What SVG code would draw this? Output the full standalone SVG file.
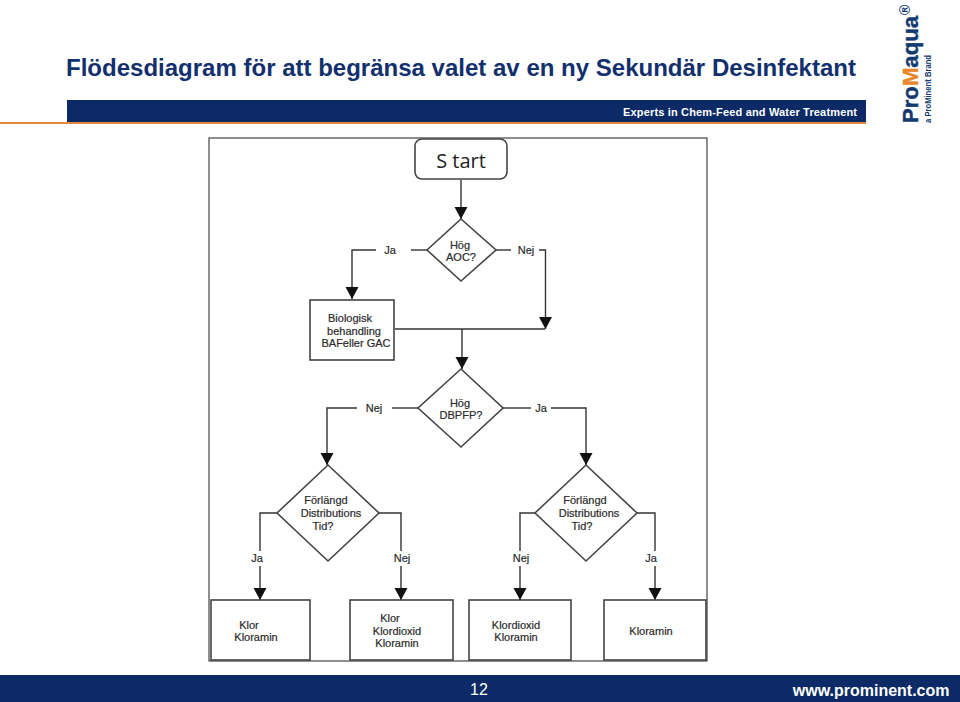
<svg xmlns="http://www.w3.org/2000/svg" width="960" height="702" viewBox="0 0 960 702">
<defs>
<marker id="ah" markerUnits="userSpaceOnUse" markerWidth="14" markerHeight="14" refX="12" refY="6.500" orient="auto"><path d="M0 0L12 6.500L0 13Z" fill="#111"/></marker>
</defs>
<style>
text{font-family:"Liberation Sans",Arial,sans-serif}
.s{fill:#fff;stroke:#444;stroke-width:1.6}
.c{fill:none;stroke:#333;stroke-width:1.4}
.a{marker-end:url(#ah)}
.t{font-size:11px;fill:#2a2a2a;text-anchor:middle;stroke:#2a2a2a;stroke-width:.2}
.l{font-size:11px;fill:#2a2a2a;text-anchor:middle;stroke:#2a2a2a;stroke-width:.2}
</style>
<rect width="960" height="702" fill="#fff"/>
<g id="header">
<text x="66" y="76" font-size="24.500" font-weight="700" fill="#12306e" textLength="790" lengthAdjust="spacingAndGlyphs">Flödesdiagram för att begränsa valet av en ny Sekundär Desinfektant</text>
<rect x="67" y="100" width="799" height="22" fill="#0b2a66"/>
<rect x="0" y="122" width="866" height="2" fill="#e58a3c"/>
<text x="857" y="116" font-size="11" font-weight="700" fill="#fff" text-anchor="end" textLength="234" lengthAdjust="spacing">Experts in Chem-Feed and Water Treatment</text>
</g>
<g id="logo">
<text transform="translate(917.500 123) rotate(-90)" font-size="22" font-weight="700" textLength="107" lengthAdjust="spacingAndGlyphs" fill="#123a70" stroke="#123a70" stroke-width=".4">Pro<tspan fill="#e8872a" stroke="#e8872a">M</tspan>aqua</text>
<text transform="translate(931 123) rotate(-90)" font-size="9" font-weight="700" fill="#123a70" textLength="68" lengthAdjust="spacingAndGlyphs">a ProMinent Brand</text>
<text transform="translate(910 15) rotate(-90)" font-size="14" font-weight="700" fill="#123a70">®</text>
</g>
<rect id="frame" x="209" y="138" width="498" height="523" fill="none" stroke="#444" stroke-width="1.2"/>
<g id="connectors">
<path class="c a" d="M461 180V219"/>
<path class="c" d="M427 250H411"/>
<path class="c a" d="M376 250H352V299"/>
<path class="c" d="M496 250H511"/>
<path class="c a" d="M539 250H545.500V329"/>
<path class="c" d="M395 329H545"/>
<path class="c a" d="M462 329V369"/>
<path class="c" d="M418 408H392"/>
<path class="c a" d="M357 408H327V465"/>
<path class="c" d="M503 408H531"/>
<path class="c a" d="M551 408H586V465"/>
<path class="c" d="M277 513H260V551"/>
<path class="c a" d="M260 566V600"/>
<path class="c" d="M379 513H401V551"/>
<path class="c a" d="M401 566V600"/>
<path class="c" d="M535 513H520V551"/>
<path class="c a" d="M520 566V600"/>
<path class="c" d="M637 513H655V551"/>
<path class="c a" d="M655 566V600"/>
<text class="l" x="390" y="254">Ja</text>
<text class="l" x="526" y="254">Nej</text>
<text class="l" x="374" y="412">Nej</text>
<text class="l" x="541" y="412">Ja</text>
<text class="l" x="257" y="562">Ja</text>
<text class="l" x="402" y="562">Nej</text>
<text class="l" x="521" y="562">Nej</text>
<text class="l" x="651" y="562">Ja</text>
</g>
<g id="start"><rect class="s" x="415" y="139" width="92" height="40" rx="7"/><text x="461" y="168" font-size="20" fill="#222" text-anchor="middle" style="font-family:'Open Sans',sans-serif">S tart</text></g>
<g id="aoc"><path class="s" d="M461 219L496 250L461 281L427 250Z"/><text class="t" x="460" y="249">Hög</text><text class="t" x="461" y="261">AOC?</text></g>
<g id="bio"><rect class="s" x="310" y="300" width="84" height="60"/><text class="t" x="350" y="322">Biologisk</text><text class="t" x="354" y="335">behandling</text><text class="t" x="356" y="347">BAFeller GAC</text></g>
<g id="dbpfp"><path class="s" d="M461 369L503 408L461 447L418 408Z"/><text class="t" x="460" y="407">Hög</text><text class="t" x="461" y="419">DBPFP?</text></g>
<g id="dist1"><path class="s" d="M328 465L379 513L328 561L277 513Z"/><text class="t" x="326" y="504">Förlängd</text><text class="t" x="331" y="517">Distributions</text><text class="t" x="323" y="530">Tid?</text></g>
<g id="dist2"><path class="s" d="M586 465L637 513L586 561L535 513Z"/><text class="t" x="585" y="504">Förlängd</text><text class="t" x="589" y="517">Distributions</text><text class="t" x="582" y="530">Tid?</text></g>
<g id="r1"><rect class="s" x="211" y="600" width="99" height="60"/><text class="t" x="249" y="629">Klor</text><text class="t" x="256" y="641">Kloramin</text></g>
<g id="r2"><rect class="s" x="350" y="600" width="103" height="60"/><text class="t" x="390" y="622">Klor</text><text class="t" x="397" y="635">Klordioxid</text><text class="t" x="397" y="647">Kloramin</text></g>
<g id="r3"><rect class="s" x="469" y="600" width="102" height="60"/><text class="t" x="516" y="629">Klordioxid</text><text class="t" x="516" y="641">Kloramin</text></g>
<g id="r4"><rect class="s" x="604" y="600" width="102" height="60"/><text class="t" x="651" y="635">Kloramin</text></g>
<g id="footer">
<rect x="0" y="675" width="960" height="27" fill="#0b2a66"/>
<text x="479" y="695" font-size="16" fill="#fff" text-anchor="middle">12</text>
<text x="949.500" y="696" font-size="16" font-weight="700" fill="#fff" text-anchor="end">www.prominent.com</text>
</g>
</svg>
